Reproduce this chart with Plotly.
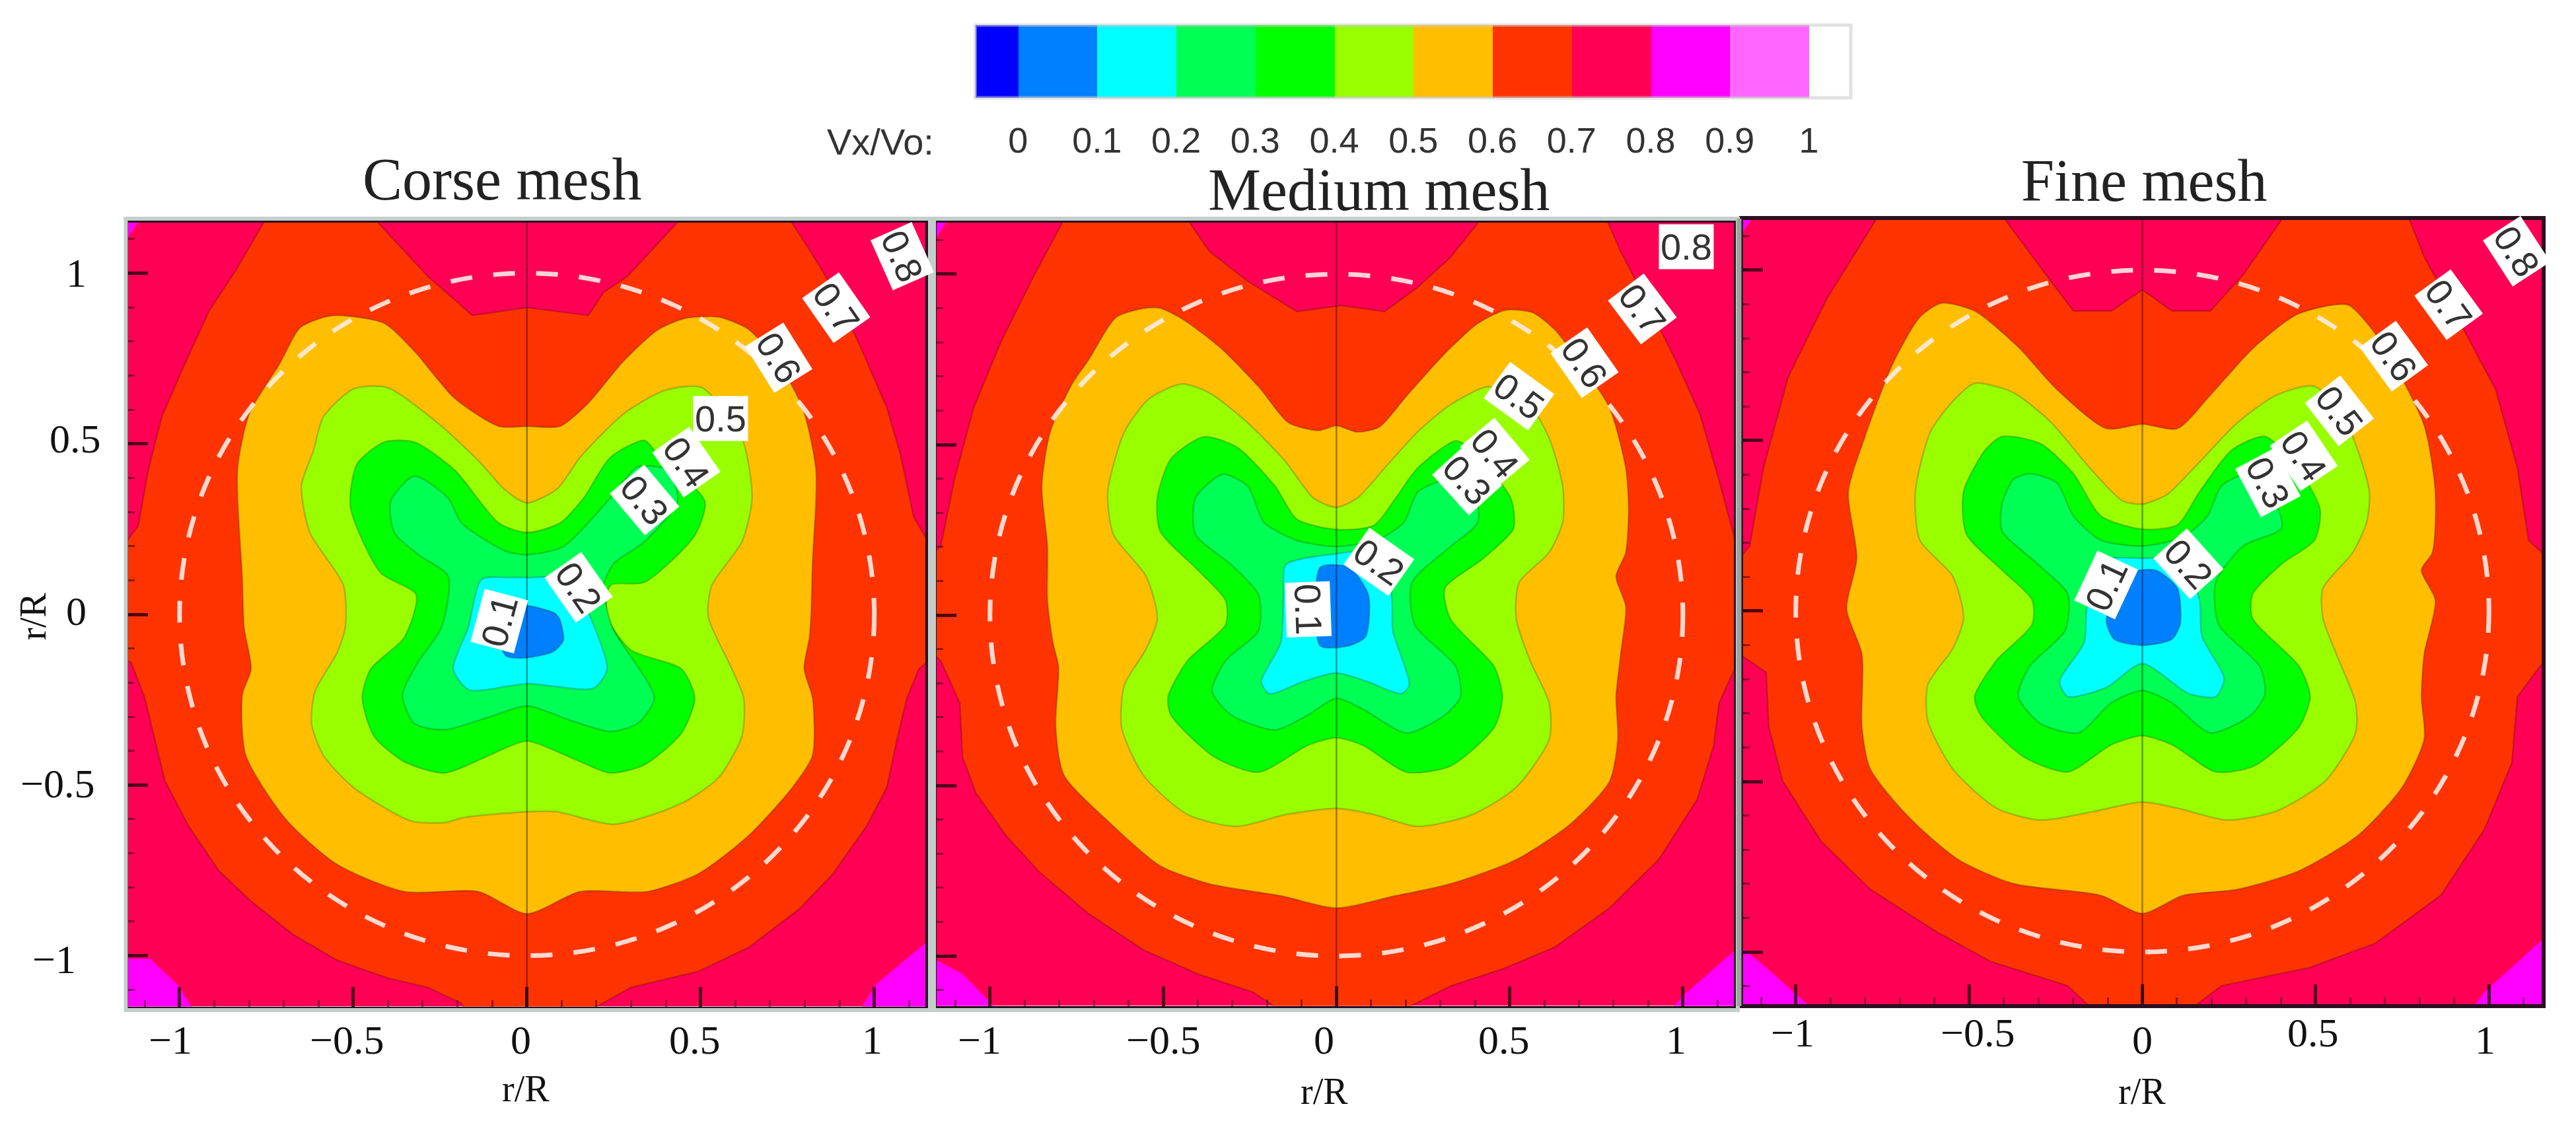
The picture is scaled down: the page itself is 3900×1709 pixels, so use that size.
import plotly.graph_objects as go

W, H = 3900, 1709

# ---------- colour key ----------
KEY_LEVELS = [0, 0.1, 0.2, 0.3, 0.4, 0.5, 0.6, 0.7, 0.8, 0.9, 1]
KEY_TEXT = ["0", "0.1", "0.2", "0.3", "0.4", "0.5", "0.6", "0.7", "0.8", "0.9", "1"]
KEY_EDGES = [-0.054, 0, 0.1, 0.2, 0.3, 0.4, 0.5, 0.6, 0.7, 0.8, 0.9, 1, 1.053]
KEY_COLORS = ["#0000ff", "#0080ff", "#00ffff", "#00ff55", "#00ff00", "#99ff00",
              "#ffbf00", "#ff3300", "#ff0055", "#ff00ff", "#ff66ff", "#ffffff"]
FILL = {"c07": "#ff3300", "c06": "#ffbf00", "c05": "#99ff00", "c04": "#00ff00",
        "c03": "#00ff55", "c02": "#00ffff", "c01": "#0080ff", "c08": "#ff00ff"}

# ---------- coarse mesh contours (x, y in r/R) ----------
P1_C07 = [(-.751,1.16),(-.838,1.008),(-.915,.889),(-.993,.716),(-1.051,.579),(-1.09,.423),(-1.119,.259),(-1.16,.204),
 (-1.16,-.132),(-1.139,-.141),(-1.1,-.245),(-1.071,-.367),(-1.042,-.488),(-.974,-.62),(-.887,-.751),(-.79,-.844),(-.673,-.938),
 (-.547,-1.013),(-.402,-1.065),(-.285,-1.093),(-.188,-1.14),(-.178,-1.16),(.182,-1.16),(.299,-1.093),(.493,-1.046),(.638,-.976),
 (.784,-.863),(.881,-.76),(.978,-.62),(1.036,-.507),(1.065,-.367),(1.094,-.245),(1.128,-.16),(1.16,-.132),(1.16,.204),(1.113,.286),
 (1.075,.469),(1.036,.606),(.958,.789),(.871,.972),(.822,1.054),(.755,1.16),(.444,1.16),(.289,.99),(.221,.944),(.177,.876),
 (0,.899),(-.157,.876),(-.285,.99),(-.44,1.16)]
P1_C06 = [(-.547,.876),(-.411,.853),(-.324,.771),(-.208,.633),(-.081,.551),(0,.551),(.095,.551),(.173,.615),(.279,.743),(.376,.833),
 (.454,.867),(.551,.871),(.638,.835),(.725,.734),(.793,.606),(.832,.423),(.822,.149),(.818,.003),(.813,-.067),(.798,-.16),(.822,-.245),
 (.822,-.413),(.764,-.507),(.638,-.648),(.493,-.76),(.347,-.812),(.153,-.812),(0,-.877),(-.14,-.812),(-.353,-.812),(-.547,-.732),
 (-.693,-.601),(-.809,-.413),(-.819,-.235),(-.794,-.16),(-.814,-.038),(-.819,.103),(-.833,.423),(-.799,.588),(-.712,.734),(-.654,.839),(-.596,.867)]
P1_C05 = [(-.499,.661),(-.402,.665),(-.256,.56),(-.14,.451),(-.062,.364),(0,.327),(.087,.368),(.153,.46),(.279,.588),(.396,.656),
 (.503,.665),(.619,.515),(.648,.341),(.619,.213),(.532,.085),(.522,-.006),(.59,-.16),(.624,-.245),(.619,-.357),(.551,-.479),(.444,-.554),
 (.25,-.615),(.085,-.578),(0,-.578),(-.186,-.596),(-.237,-.61),(-.334,-.605),(-.499,-.507),(-.586,-.413),(-.62,-.32),(-.61,-.226),
 (-.547,-.113),(-.523,-.038),(-.528,.085),(-.625,.24),(-.649,.378),(-.615,.478),(-.586,.579)]
P1_C04 = [(-.411,.505),(-.324,.505),(-.208,.423),(-.081,.268),(0,.24),(.095,.268),(.163,.341),(.24,.46),(.338,.51),(.376,.469),
 (.512,.332),(.483,.231),(.338,.094),(.24,.085),(.231,-.006),(.299,-.104),(.445,-.16),(.483,-.245),(.445,-.348),(.338,-.441),(.24,-.465),
 (.134,-.423),(0,-.371),(-.089,-.404),(-.13,-.423),(-.237,-.465),(-.353,-.432),(-.44,-.357),(-.474,-.245),(-.45,-.16),(-.353,-.067),
 (-.319,.058),(-.421,.122),(-.508,.314),(-.489,.441)]
P1_C03 = [(-.324,.405),(-.227,.341),(-.188,.268),(-.062,.186),(0,.175),(.105,.199),(.24,.341),(.318,.432),(.405,.423),(.434,.332),
 (.338,.213),(.25,.149),(.221,.085),(.246,-.038),(.367,-.245),(.318,-.32),(.24,-.343),(.124,-.31),(0,-.268),(-.109,-.301),(-.237,-.338),
 (-.324,-.32),(-.358,-.235),(-.314,-.141),(-.246,-.038),(-.227,.112),(-.314,.176),(-.382,.24),(-.392,.332)]
P1_C02 = [(-.13,.103),(-.052,.108),(0,.108),(.134,.103),(.182,-.006),(.231,-.16),(.192,-.216),(0,-.203),(-.167,-.221),(-.212,-.16),(-.169,-.038)]
P1_C01 = [(-.04,.02),(0,.026),(.081,.003),(.095,-.016),(.105,-.076),(.076,-.109),(0,-.127),(-.06,-.122),(-.09,-.03)]
P1_C08 = [[(-1.16,-1.009),(-1.085,-1.009),(-1.003,-1.088),(-.959,-1.16),(-1.16,-1.16)],
          [(1.16,-.952),(1.006,-1.083),(.958,-1.16),(1.16,-1.16)],
          [(-1.16,1.16),(-1.11,1.16),(-1.16,1.09)]]

# ---------- medium mesh contours ----------
P2_C07 = [(-.786,1.16),(-.873,.996),(-.968,.802),(-1.047,.608),(-1.103,.396),(-1.142,.201),(-1.16,.184),(-1.16,-.117),(-1.142,-.134),
 (-1.087,-.258),(-1.079,-.417),(-1.04,-.523),(-.953,-.647),(-.858,-.753),(-.715,-.876),(-.557,-.982),(-.399,-1.053),(-.241,-1.106),
 (-.161,-1.16),(.187,-1.16),(.329,-1.088),(.487,-1.035),(.63,-.974),(.788,-.859),(.93,-.717),(1.041,-.541),(1.089,-.382),(1.104,-.258),
 (1.16,-.134),(1.16,.184),(1.104,.396),(1.049,.59),(.978,.749),(.883,.943),(.82,1.067),(.78,1.16),(.416,1.16),(.329,1.049),(.234,.961),
 (.139,.89),(.013,.908),(-.114,.89),(-.256,.979),(-.367,1.067),(-.43,1.16)]
P2_C06 = [(-.51,.9),(-.446,.869),(-.335,.784),(-.225,.67),(-.138,.564),(-.051,.541),(0,.555),(.06,.537),(.123,.551),(.203,.643),(.313,.767),
 (.408,.855),(.487,.894),(.566,.887),(.63,.837),(.709,.731),(.788,.608),(.835,.431),(.843,.307),(.835,.184),(.807,.113),(.835,.025),
 (.82,-.117),(.807,-.24),(.812,-.364),(.788,-.488),(.677,-.611),(.519,-.717),(.329,-.788),(.171,-.823),(0,-.859),(-.161,-.823),(-.367,-.788),
 (-.509,-.735),(-.652,-.611),(-.786,-.47),(-.81,-.329),(-.802,-.152),(-.818,-.081),(-.834,.042),(-.834,.201),(-.85,.378),(-.826,.537),
 (-.763,.678),(-.715,.749),(-.636,.873),(-.557,.899)]
P2_C05 = [(-.446,.678),(-.367,.652),(-.256,.564),(-.146,.449),(-.066,.343),(0,.316),(.06,.343),(.139,.431),(.234,.537),(.329,.617),(.44,.67),
 (.551,.625),(.614,.519),(.653,.378),(.653,.272),(.614,.184),(.527,.095),(.519,-.011),(.559,-.134),(.614,-.258),(.614,-.364),(.519,-.505),
 (.392,-.585),(.234,-.62),(.108,-.585),(0,-.567),(-.146,-.585),(-.288,-.62),(-.43,-.585),(-.557,-.47),(-.62,-.329),(-.612,-.205),(-.549,-.099),
 (-.517,-.011),(-.549,.113),(-.644,.237),(-.66,.36),(-.612,.537),(-.541,.634)]
P2_C04 = [(-.383,.523),(-.288,.493),(-.177,.378),(-.114,.281),(0,.251),(.108,.263),(.171,.343),(.234,.431),(.345,.511),(.392,.484),(.503,.343),
 (.511,.254),(.424,.166),(.313,.078),(.329,-.011),(.456,-.152),(.479,-.24),(.456,-.329),(.329,-.443),(.203,-.461),(.076,-.382),(0,-.36),
 (-.082,-.382),(-.225,-.461),(-.351,-.417),(-.478,-.293),(-.486,-.24),(-.43,-.134),(-.32,-.028),(-.32,.042),(-.399,.131),(-.509,.246),(-.517,.343),(-.478,.458)]
P2_C03 = [(-.328,.413),(-.256,.378),(-.209,.272),(-.114,.219),(0,.201),(.123,.223),(.195,.272),(.234,.36),(.313,.396),(.392,.378),(.408,.272),
 (.329,.201),(.218,.095),(.226,-.028),(.345,-.152),(.358,-.24),(.313,-.293),(.203,-.346),(.076,-.276),(0,-.244),(-.082,-.293),(-.177,-.337),
 (-.304,-.293),(-.359,-.223),(-.32,-.134),(-.225,-.046),(-.225,.06),(-.304,.148),(-.407,.237),(-.407,.343)]
P2_C02 = [(-.146,.148),(0,.18),(.06,.184),(.155,.078),(.163,-.046),(.21,-.205),(.187,-.231),(.092,-.196),(0,-.17),(-.098,-.196),(-.193,-.231),(-.217,-.196),(-.161,-.081),(-.153,.06)]
P2_C01 = [(-.047,.14),(.036,.14),(.092,.06),(.084,-.064),(.036,-.09),(-.047,-.09)]
P2_C08 = [[(-1.16,-1.009),(-1.079,-1.053),(-.976,-1.16),(-1.16,-1.16)],
          [(1.16,-.974),(1.002,-1.115),(.962,-1.16),(1.16,-1.16)],
          [(-1.16,1.16),(-1.12,1.16),(-1.16,1.1)]]

# ---------- fine mesh contours ----------
P3_C07 = [(-.761,1.16),(-.911,.915),(-1.022,.686),(-1.093,.42),(-1.133,.191),(-1.16,.155),(-1.16,-.127),(-1.085,-.18),(-1.078,-.339),(-1.038,-.498),
 (-.927,-.675),(-.785,-.816),(-.595,-.94),(-.437,-1.028),(-.215,-1.099),(-.152,-1.16),(.149,-1.16),(.228,-1.099),(.481,-1.046),(.671,-.975),
 (.861,-.834),(.987,-.64),(1.066,-.445),(1.082,-.251),(1.16,-.145),(1.16,.164),(1.114,.208),(1.082,.42),(1.019,.65),(.908,.862),(.813,1.039),
 (.766,1.16),(.41,1.16),(.291,.986),(.196,.88),(.085,.88),(0,.942),(-.089,.88),(-.199,.88),(-.278,.986),(-.405,1.16)]
P3_C06 = [(-.579,.903),(-.484,.88),(-.358,.774),(-.247,.65),(-.104,.535),(0,.548),(.101,.535),(.196,.633),(.323,.774),(.449,.871),(.592,.898),
 (.655,.836),(.718,.739),(.813,.544),(.845,.35),(.837,.173),(.805,.12),(.845,.032),(.813,-.127),(.805,-.251),(.813,-.375),(.75,-.516),(.623,-.657),
 (.449,-.763),(.275,-.816),(.117,-.834),(0,-.887),(-.12,-.834),(-.373,-.799),(-.532,-.728),(-.674,-.604),(-.785,-.463),(-.809,-.339),(-.809,-.127),
 (-.853,.005),(-.824,.155),(-.848,.35),(-.801,.509),(-.722,.721),(-.642,.862)]
P3_C05 = [(-.484,.668),(-.373,.641),(-.263,.553),(-.152,.42),(-.057,.323),(0,.314),(.07,.341),(.149,.42),(.275,.553),(.386,.633),(.497,.659),(.592,.544),
 (.655,.35),(.647,.261),(.608,.173),(.521,.067),(.521,-.021),(.56,-.127),(.615,-.269),(.615,-.357),(.528,-.498),(.386,-.587),(.244,-.613),(.101,-.578),
 (0,-.56),(-.136,-.587),(-.294,-.613),(-.421,-.578),(-.547,-.463),(-.619,-.322),(-.619,-.216),(-.547,-.11),(-.516,-.021),(-.547,.102),(-.642,.208),
 (-.655,.35),(-.611,.527),(-.547,.615)]
P3_C04 = [(-.405,.512),(-.294,.491),(-.199,.403),(-.12,.279),(0,.24),(.101,.253),(.165,.35),(.259,.473),(.354,.512),(.449,.42),(.513,.297),(.497,.208),
 (.402,.138),(.318,.049),(.318,-.021),(.453,-.163),(.484,-.251),(.453,-.339),(.323,-.454),(.212,-.472),(.085,-.392),(0,-.366),(-.089,-.392),(-.215,-.472),
 (-.342,-.428),(-.468,-.304),(-.484,-.251),(-.421,-.145),(-.318,-.039),(-.318,.032),(-.405,.12),(-.508,.226),(-.516,.35),(-.453,.473)]
P3_C03 = [(-.326,.403),(-.247,.376),(-.199,.279),(-.12,.208),(0,.191),(.117,.217),(.188,.279),(.228,.367),(.307,.403),(.37,.35),(.402,.244),(.291,.191),
 (.212,.085),(.22,-.039),(.339,-.163),(.354,-.242),(.315,-.304),(.196,-.357),(.085,-.269),(0,-.233),(-.089,-.269),(-.184,-.357),(-.294,-.33),(-.358,-.251),
 (-.326,-.163),(-.223,-.057),(-.215,.049),(-.302,.138),(-.405,.235),(-.405,.314),(-.373,.385)]
P3_C02 = [(-.12,.147),(0,.155),(.117,.147),(.165,.032),(.172,-.074),(.236,-.198),(.212,-.251),(.133,-.242),(0,-.154),(-.104,-.224),(-.215,-.251),(-.239,-.207),(-.168,-.092),(-.16,.014)]
P3_C01 = [(-.041,.111),(.038,.12),(.101,.067),(.109,-.039),(.085,-.083),(0,-.101),(-.081,-.083),(-.104,-.03),(-.081,.049)]
P3_C08 = [[(-1.16,-.984),(-1.085,-1.046),(-.959,-1.16),(-1.16,-1.16)],
          [(1.16,-.958),(.987,-1.117),(.956,-1.16),(1.16,-1.16)],
          [(-1.16,1.16),(-1.12,1.16),(-1.16,1.1)]]

# ---------- contour labels: text, x, y, angle ----------
LABEL_TEXT = ["0.1", "0.2", "0.3", "0.4", "0.5", "0.6", "0.7", "0.8"]
P1_LABEL_X = [-.08, .148, .338, .459, .558, .725, .89, 1.08]
P1_LABEL_Y = [-.02, .08, .336, .446, .574, .752, .899, 1.05]
P1_LABEL_ANGLE = [-75, 55, 50, 55, 0, 58, 55, 66]
P2_LABEL_X = [-.082, .123, .377, .456, .527, .717, .883, 1.009]
P2_LABEL_Y = [.016, .157, .396, .475, .643, .74, .899, 1.08]
P2_LABEL_ANGLE = [88, 35, 48, 50, 36, 55, 53, 0]
P3_LABEL_X = [-.104, .133, .362, .465, .568, .726, .884, 1.08]
P3_LABEL_Y = [.076, .138, .376, .456, .588, .747, .898, 1.055]
P3_LABEL_ANGLE = [-65, 48, 62, 56, 52, 54, 54, 57]

TICKS = [-1, -0.5, 0, 0.5, 1]
X_TICK_TEXT = ["\u22121", "\u22120.5", "0", "0.5", "1"]
Y_TICK_TEXT = ["1", "0.5", "0", "\u22120.5", "\u22121"]
TITLES = ["Corse mesh", "Medium mesh", "Fine mesh"]
AXIS_TEXT = "r/R"

# ---------- layout (pixels in the picture) ----------
PANELS = [
    dict(box=(194, 337, 1401, 1523.6), xr=(-1.148, 1.147), yr=(-1.149, 1.148),
         c=[P1_C07, P1_C06, P1_C05, P1_C04, P1_C03, P1_C02, P1_C01], m=P1_C08,
         lx=P1_LABEL_X, ly=P1_LABEL_Y, la=P1_LABEL_ANGLE,
         title_xy=(760, 272), tick_x=[258, 525, 788, 1052, 1320], tick_y=[1574] * 5, rr=(796, 1648),
         gray=(190.5, 331, 1408, 1529)),
    dict(box=(1418, 336.5, 2625, 1522.5), xr=(-1.154, 1.147), yr=(-1.146, 1.152),
         c=[P2_C07, P2_C06, P2_C05, P2_C04, P2_C03, P2_C02, P2_C01], m=P2_C08,
         lx=P2_LABEL_X, ly=P2_LABEL_Y, la=P2_LABEL_ANGLE,
         title_xy=(2087, 288), tick_x=[1483, 1761, 2005, 2277, 2537], tick_y=[1574] * 5, rr=(2005, 1652),
         gray=(1414, 331, 2631, 1529)),
    dict(box=(2639, 333, 3848, 1520), xr=(-1.152, 1.152), yr=(-1.153, 1.147),
         c=[P3_C07, P3_C06, P3_C05, P3_C04, P3_C03, P3_C02, P3_C01], m=P3_C08,
         lx=P3_LABEL_X, ly=P3_LABEL_Y, la=P3_LABEL_ANGLE,
         title_xy=(3246, 273), tick_x=[2714, 2994, 3243, 3502, 3762], tick_y=[1563, 1563, 1574, 1563, 1574], rr=(3243, 1652),
         gray=None),
]
Y_TICK_PX_X = [115, 114, 115, 87, 82]
Y_TICK_PX_Y = [413, 664, 925, 1186, 1452]

SERIF = "Liberation Serif"
SANS = "Liberation Sans"
DARK = "#2b1020"


def fx(v):
    return v / W


def fy(v):
    return 1 - v / H


def paper_text(text, px_x, px_y, font, angle=0):
    return dict(text=text, x=fx(px_x), y=fy(px_y), xref="paper", yref="paper", showarrow=False,
                xanchor="center", yanchor="middle", textangle=angle, font=font)


fig = go.Figure()
ann, shapes = [], []
LEVELS = ["c07", "c06", "c05", "c04", "c03", "c02", "c01"]
TICK_FONT = dict(family=SERIF, size=62, color="#111111")
NAME_FONT = dict(family=SERIF, size=56, color="#111111")

for i, p in enumerate(PANELS):
    n = i + 1
    xa, ya = f"x{n}", f"y{n}"
    x0, y0, x1, y1 = p["box"]
    common = dict(ticks="inside", ticklen=30, tickwidth=5, tickcolor="rgba(50,0,20,0.85)", tickvals=TICKS,
                  showticklabels=False, showgrid=False, zeroline=False, showline=True, linewidth=6,
                  linecolor=DARK, mirror=True,
                  minor=dict(ticks="inside", ticklen=10, tickwidth=3, tickcolor="rgba(60,0,20,0.55)",
                             dtick=0.1, tick0=0, showgrid=False))
    fig.update_layout(**{
        f"xaxis{n}": dict(domain=[fx(x0), fx(x1)], range=list(p["xr"]), anchor=ya, **common),
        f"yaxis{n}": dict(domain=[fy(y1), fy(y0)], range=list(p["yr"]), anchor=xa, **common),
    })
    fig.add_trace(go.Scatter(x=[p["xr"][0], p["xr"][1], p["xr"][1], p["xr"][0], p["xr"][0]],
                             y=[p["yr"][0], p["yr"][0], p["yr"][1], p["yr"][1], p["yr"][0]],
                             xaxis=xa, yaxis=ya, mode="lines", fill="toself", fillcolor="#ff0055",
                             line=dict(width=0), hoverinfo="skip", showlegend=False))
    for poly in p["m"]:
        fig.add_trace(go.Scatter(x=[a for a, _ in poly] + [poly[0][0]], y=[b for _, b in poly] + [poly[0][1]],
                                 xaxis=xa, yaxis=ya, mode="lines", fill="toself", fillcolor=FILL["c08"],
                                 line=dict(width=0), hoverinfo="skip", showlegend=False))
    for key, poly in zip(LEVELS, p["c"]):
        fig.add_trace(go.Scatter(x=[a for a, _ in poly] + [poly[0][0]], y=[b for _, b in poly] + [poly[0][1]],
                                 xaxis=xa, yaxis=ya, mode="lines", fill="toself", fillcolor=FILL[key],
                                 line=dict(width=2.5, color="rgba(0,0,0,0.2)",
                                           shape="linear" if key == "c07" else "spline", smoothing=0.7),
                                 hoverinfo="skip", showlegend=False))
    # r/R = 1 circle and the vertical axis through the hub
    shapes.append(dict(type="circle", xref=xa, yref=ya, x0=-1, x1=1, y0=-1, y1=1,
                       line=dict(color="rgba(255,235,230,0.9)", width=7, dash="33px,32px")))
    shapes.append(dict(type="line", xref=xa, yref=ya, x0=0, x1=0, y0=p["yr"][0], y1=p["yr"][1],
                       line=dict(color="rgba(0,0,0,0.38)", width=2.5)))
    # pale frame around the dark frame
    if p["gray"]:
        gx0, gy0, gx1, gy1 = p["gray"]
        shapes.append(dict(type="rect", xref="paper", yref="paper", x0=fx(gx0), x1=fx(gx1), y0=fy(gy1), y1=fy(gy0),
                           line=dict(color="#c4cfcc", width=6)))
    else:
        shapes.append(dict(type="line", xref="paper", yref="paper", x0=fx(2633), x1=fx(2633), y0=fy(1523), y1=fy(331),
                           line=dict(color="#9aa5a2", width=7)))
    # contour labels
    for t, lx, ly, la in zip(LABEL_TEXT, p["lx"], p["ly"], p["la"]):
        ann.append(dict(text=t, x=lx, y=ly, xref=xa, yref=ya, showarrow=False, textangle=la,
                        xanchor="center", yanchor="middle",
                        font=dict(family=SANS, size=56, color="#333333"), bgcolor="#ffffff", borderpad=2))
    # title, tick labels, axis name
    ann.append(paper_text(TITLES[i], p["title_xy"][0], p["title_xy"][1], dict(family=SERIF, size=90, color="#222222")))
    for t, px_x, px_y in zip(X_TICK_TEXT, p["tick_x"], p["tick_y"]):
        ann.append(paper_text(t, px_x, px_y, TICK_FONT))
    ann.append(paper_text(AXIS_TEXT, p["rr"][0], p["rr"][1], NAME_FONT))

for t, px_x, px_y in zip(Y_TICK_TEXT, Y_TICK_PX_X, Y_TICK_PX_Y):
    ann.append(paper_text(t, px_x, px_y, TICK_FONT))
ann.append(paper_text(AXIS_TEXT, 50, 933, NAME_FONT, angle=-90))
ann.append(paper_text("Vx/Vo:", 1333, 214, dict(family=SANS, size=56, color="#333333")))

# colour key drawn as stacked bars on its own axes
fig.add_trace(go.Bar(x=[b - a for a, b in zip(KEY_EDGES[:-1], KEY_EDGES[1:])], base=KEY_EDGES[:-1],
                     y=[0] * len(KEY_COLORS), orientation="h", width=1, xaxis="x4", yaxis="y4",
                     marker=dict(color=KEY_COLORS, line=dict(width=0)), hoverinfo="skip", showlegend=False))
fig.update_layout(
    xaxis4=dict(domain=[fx(1476.5), fx(2802)], range=[KEY_EDGES[0], KEY_EDGES[-1]], anchor="y4",
                tickvals=KEY_LEVELS, ticktext=KEY_TEXT, ticks="", ticklabelstandoff=28, showline=False,
                showgrid=False, zeroline=False, tickangle=0,
                tickfont=dict(family=SANS, size=54, color="#333333")),
    yaxis4=dict(domain=[fy(148), fy(38)], range=[-0.5, 0.5], anchor="x4", showticklabels=False,
                ticks="", showgrid=False, zeroline=False, showline=False),
)
shapes.append(dict(type="rect", xref="paper", yref="paper", x0=fx(1476.5), x1=fx(2802), y0=fy(148), y1=fy(38),
                   line=dict(color="rgba(200,200,200,0.55)", width=5)))

fig.update_layout(width=W, height=H, margin=dict(l=0, r=0, t=0, b=0, autoexpand=False), autosize=False,
                  paper_bgcolor="#ffffff", plot_bgcolor="rgba(0,0,0,0)", showlegend=False,
                  annotations=ann, shapes=shapes, barmode="overlay", bargap=0)

fig.write_html("out.html", config={"displayModeBar": False}, post_script="document.body.style.margin='0';")
